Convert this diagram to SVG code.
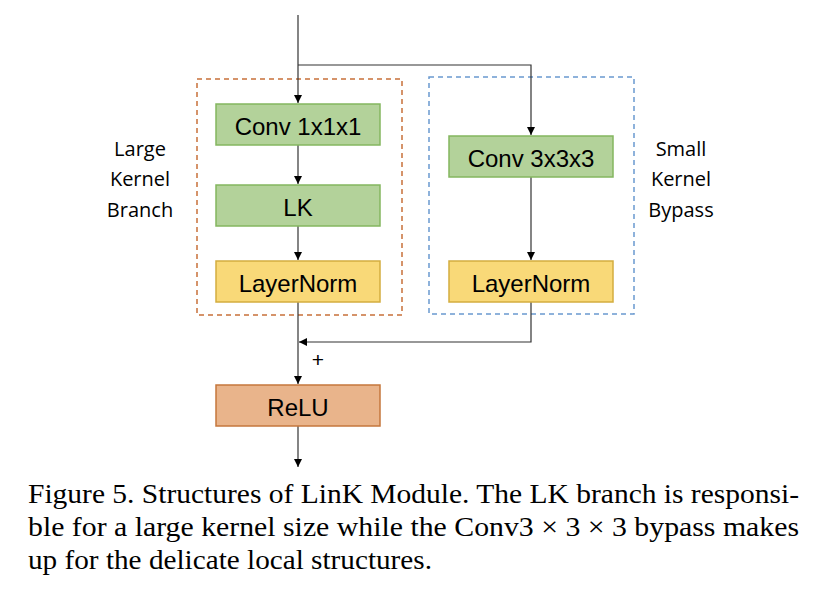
<svg xmlns="http://www.w3.org/2000/svg" width="824" height="598" viewBox="0 0 824 598">
<defs>
<marker id="ah" markerWidth="10" markerHeight="10" refX="9" refY="5" orient="auto" markerUnits="userSpaceOnUse">
<path d="M1,1 L9,5 L1,9 z" fill="#000"/>
</marker>
<style>
.box{stroke-width:1.5}
.green{fill:#b3d29a;stroke:#84b65f}
.yellow{fill:#f9d978;stroke:#d3ad3f}
.orange{fill:#e9b48b;stroke:#c5773c}
.lbl{font-family:"Liberation Sans",Arial,sans-serif;font-size:24px;fill:#000;text-anchor:middle;dominant-baseline:central}
.side{font-family:"Open Sans","Liberation Sans",sans-serif;font-size:20px;fill:#000;text-anchor:middle}
.cap{font-family:"Liberation Serif","Times New Roman",serif;font-size:28px;fill:#000}
.ln{stroke:#333;stroke-width:1.2;fill:none}
</style>
</defs>
<rect width="824" height="598" fill="#fff"/>
<g id="groups">
<rect x="197" y="79" width="205" height="236" fill="none" stroke="#c8703a" stroke-width="1.5" stroke-dasharray="5,4"/>
<rect x="429" y="77" width="205" height="237" fill="none" stroke="#6a99cf" stroke-width="1.5" stroke-dasharray="5,4"/>
</g>
<g id="connectors">
<path class="ln" d="M298,15 L298,103" marker-end="url(#ah)"/>
<path class="ln" d="M298,65 L531,65 L531,135" marker-end="url(#ah)"/>
<path class="ln" d="M298,145 L298,184" marker-end="url(#ah)"/>
<path class="ln" d="M298,226 L298,260" marker-end="url(#ah)"/>
<path class="ln" d="M531,177 L531,260" marker-end="url(#ah)"/>
<path class="ln" d="M298,302 L298,384" marker-end="url(#ah)"/>
<path class="ln" d="M531,302 L531,342 L299,342" marker-end="url(#ah)"/>
<path class="ln" d="M298,426 L298,467" marker-end="url(#ah)"/>
<text x="318" y="359" class="lbl" style="font-size:21px">+</text>
</g>
<g id="conv1">
<rect class="box green" x="216" y="104" width="164" height="41"/>
<text class="lbl" x="298" y="126">Conv 1x1x1</text>
</g>
<g id="lk">
<rect class="box green" x="216" y="185" width="164" height="41"/>
<text class="lbl" x="298" y="207">LK</text>
</g>
<g id="ln1">
<rect class="box yellow" x="216" y="261" width="164" height="41"/>
<text class="lbl" x="298" y="283">LayerNorm</text>
</g>
<g id="conv3">
<rect class="box green" x="449" y="136" width="164" height="41"/>
<text class="lbl" x="531" y="158">Conv 3x3x3</text>
</g>
<g id="ln2">
<rect class="box yellow" x="449" y="261" width="164" height="41"/>
<text class="lbl" x="531" y="283">LayerNorm</text>
</g>
<g id="relu">
<rect class="box orange" x="216" y="385" width="164" height="41"/>
<text class="lbl" x="298" y="407">ReLU</text>
</g>
<g id="large-label">
<text class="side" x="140" y="156">Large</text>
<text class="side" x="140" y="186">Kernel</text>
<text class="side" x="140" y="217">Branch</text>
</g>
<g id="small-label">
<text class="side" x="681" y="156">Small</text>
<text class="side" x="681" y="186">Kernel</text>
<text class="side" x="681" y="217">Bypass</text>
</g>
<g id="caption">
<text class="cap" x="28" y="503" textLength="771" lengthAdjust="spacingAndGlyphs">Figure 5. Structures of LinK Module. The LK branch is responsi-</text>
<text class="cap" x="28" y="536" textLength="771" lengthAdjust="spacingAndGlyphs">ble for a large kernel size while the Conv3 × 3 × 3 bypass makes</text>
<text class="cap" x="28" y="569" textLength="404" lengthAdjust="spacingAndGlyphs">up for the delicate local structures.</text>
</g>
</svg>
